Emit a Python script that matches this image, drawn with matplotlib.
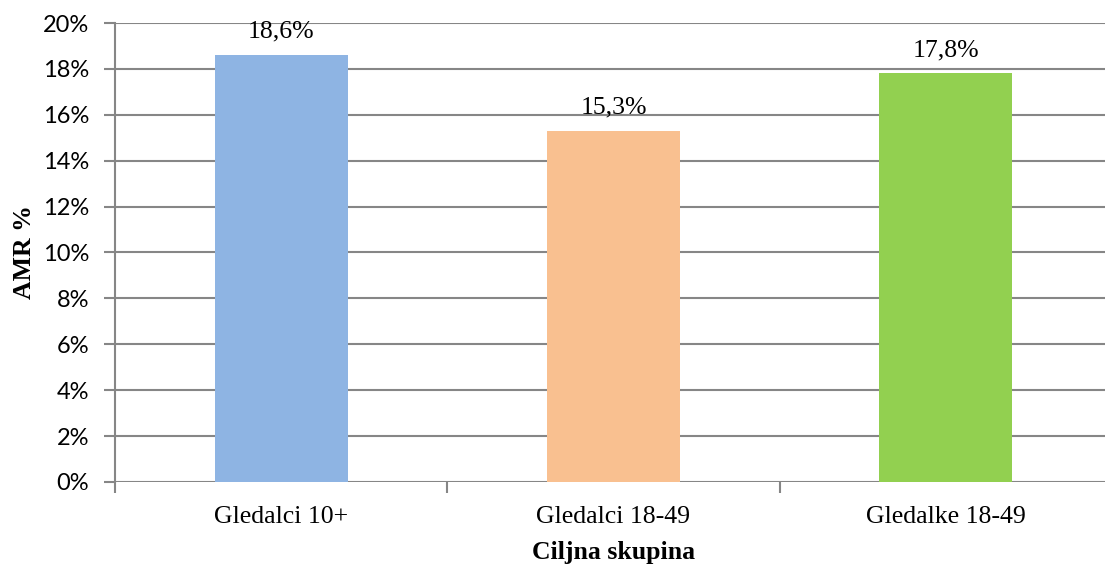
import matplotlib
matplotlib.use("Agg")
import matplotlib.pyplot as plt
from matplotlib.ticker import FixedLocator, FuncFormatter

categories = ["Gledalci 10+", "Gledalci 18-49", "Gledalke 18-49"]
values = [18.6, 15.3, 17.8]
colors = ["#8EB4E3", "#F9C090", "#92D050"]
yticks = [0, 2, 4, 6, 8, 10, 12, 14, 16, 18, 20]

serif = "Liberation Serif"
sans = "Lato"
grid_color = "#868686"

fig = plt.figure(figsize=(11.05, 5.64), dpi=100)
ax = fig.add_axes([115 / 1105, 82 / 564, 997 / 1105, 459 / 564])

x = list(range(len(categories)))
bars = ax.bar(x, values, width=0.40, color=colors, zorder=3)

ax.set_xlim(-0.5, len(categories) - 0.5)
ax.set_ylim(0, 20)

# horizontal gridlines with short outward ticks
ax.set_yticks(yticks)
ax.yaxis.set_major_formatter(FuncFormatter(lambda v, p: f"{int(v)}%"))
ax.grid(axis="y", color=grid_color, linewidth=1.5, zorder=0)
ax.tick_params(axis="y", length=8, width=1.5, color=grid_color, pad=10.5,
               labelsize=17)
for lbl in ax.get_yticklabels():
    lbl.set_fontfamily(sans)

# category labels, with tick marks at the category boundaries
ax.set_xticks(x)
ax.set_xticklabels(categories, fontfamily=serif, fontsize=18.5)
ax.tick_params(axis="x", which="major", length=0, pad=17)
ax.xaxis.set_minor_locator(FixedLocator([i - 0.5 for i in range(len(categories) + 1)]))
ax.tick_params(axis="x", which="minor", length=8, width=1.5, color=grid_color)

for side in ["top", "right", "bottom"]:
    ax.spines[side].set_visible(False)
ax.spines["left"].set_color(grid_color)
ax.spines["left"].set_linewidth(1.5)

for rect, v in zip(bars, values):
    ax.annotate(f"{v:.1f}%".replace(".", ","),
                (rect.get_x() + rect.get_width() / 2, v),
                xytext=(0, 9), textcoords="offset points",
                ha="center", va="bottom", fontfamily=serif, fontsize=18.5)

ax.set_ylabel("AMR %", fontfamily=serif, fontweight="bold", fontsize=18.5,
              labelpad=5)
ax.set_xlabel("Ciljna skupina", fontfamily=serif, fontweight="bold",
              fontsize=18.5, labelpad=10)

fig.savefig("out.png", dpi=100)
